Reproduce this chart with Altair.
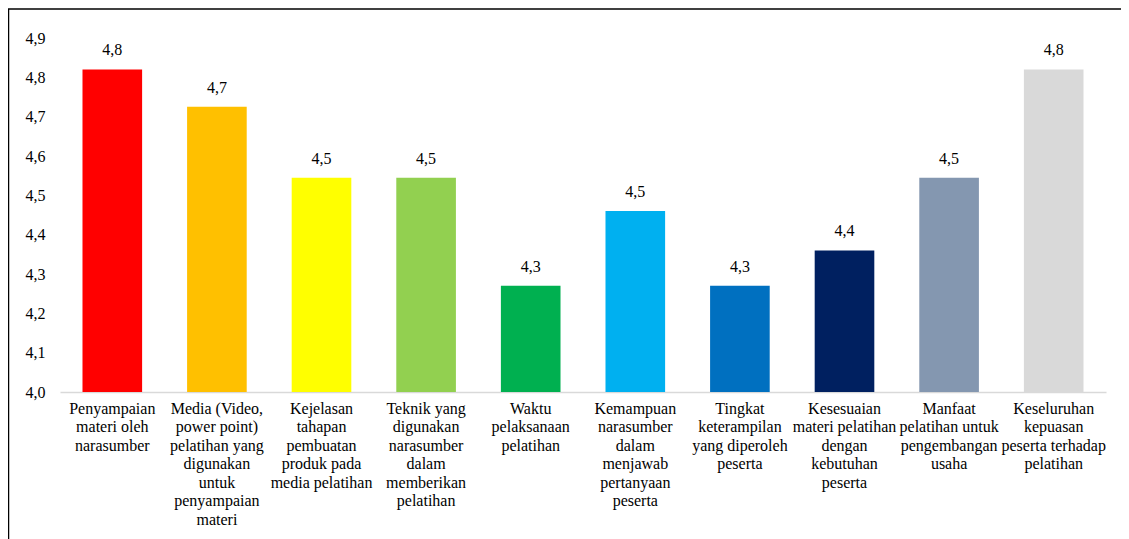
import altair as alt
import pandas as pd

categories = [
    "Penyampaian\nmateri oleh\nnarasumber",
    "Media (Video,\npower point)\npelatihan yang\ndigunakan\nuntuk\npenyampaian\nmateri",
    "Kejelasan\ntahapan\npembuatan\nproduk pada\nmedia pelatihan",
    "Teknik yang\ndigunakan\nnarasumber\ndalam\nmemberikan\npelatihan",
    "Waktu\npelaksanaan\npelatihan",
    "Kemampuan\nnarasumber\ndalam\nmenjawab\npertanyaan\npeserta",
    "Tingkat\nketerampilan\nyang diperoleh\npeserta",
    "Kesesuaian\nmateri pelatihan\ndengan\nkebutuhan\npeserta",
    "Manfaat\npelatihan untuk\npengembangan\nusaha",
    "Keseluruhan\nkepuasan\npeserta terhadap\npelatihan",
]
values = [4.82, 4.725, 4.545, 4.545, 4.27, 4.46, 4.27, 4.36, 4.545, 4.82]
colors = ["#FF0000", "#FFC000", "#FFFF00", "#92D050", "#00B050",
          "#00B0F0", "#0070C0", "#002060", "#8497B0", "#D9D9D9"]

df = pd.DataFrame({"cat": categories, "value": values, "color": colors})

FONT = "'Liberation Serif', 'Times New Roman', serif"
W, H = 1046, 354

x = alt.X(
    "cat:N", sort=None, title=None,
    scale=alt.Scale(paddingInner=0.43, paddingOuter=0.215),
    axis=alt.Axis(
        labelAngle=0, labelFont=FONT, labelFontSize=16, labelColor="#000000",
        labelLineHeight=18.5, labelPadding=8, ticks=False,
        domainColor="#D9D9D9", domainWidth=1.5,
        labelExpr="split(datum.label, '\\n')", labelBaseline="top",
        labelLimit=200,
    ),
)
y = alt.Y(
    "value:Q", title=None,
    scale=alt.Scale(domain=[4.0, 4.9], nice=False, zero=False),
    axis=alt.Axis(
        values=[4.0, 4.1, 4.2, 4.3, 4.4, 4.5, 4.6, 4.7, 4.8, 4.9],
        labelExpr="replace(format(datum.value, '.1f'), '.', ',')",
        labelFont=FONT, labelFontSize=16, labelColor="#000000",
        labelPadding=15, ticks=False, domain=False, grid=False,
    ),
)

base = alt.Chart(df)
bars = base.mark_bar().encode(
    x=x, y=y, y2=alt.datum(4.0),
    color=alt.Color("color:N", scale=None),
)
labels = base.transform_calculate(
    lab="replace(format(datum.value, '.1f'), '.', ',')"
).mark_text(font=FONT, fontSize=16, color="#000000", baseline="middle", dy=-19).encode(
    x=x, y=y, text="lab:N"
)

frame_top = alt.Chart(pd.DataFrame({"a": [0]})).mark_rule(color="#000000", strokeWidth=1.5).encode(
    x=alt.value(-52), x2=alt.value(1130), y=alt.value(-29)
)
frame_left = alt.Chart(pd.DataFrame({"a": [0]})).mark_rule(color="#000000", strokeWidth=1.5).encode(
    x=alt.value(-51.5), y=alt.value(-29), y2=alt.value(520)
)

chart = alt.layer(bars, labels, frame_top, frame_left).properties(
    width=W, height=H,
    autosize=alt.AutoSizeParams(type="none"),
    padding={"left": 52, "top": 30, "right": 15, "bottom": 160},
).configure_view(stroke=None)

chart.save("out.html", embed_options={"renderer": "svg", "actions": False})
